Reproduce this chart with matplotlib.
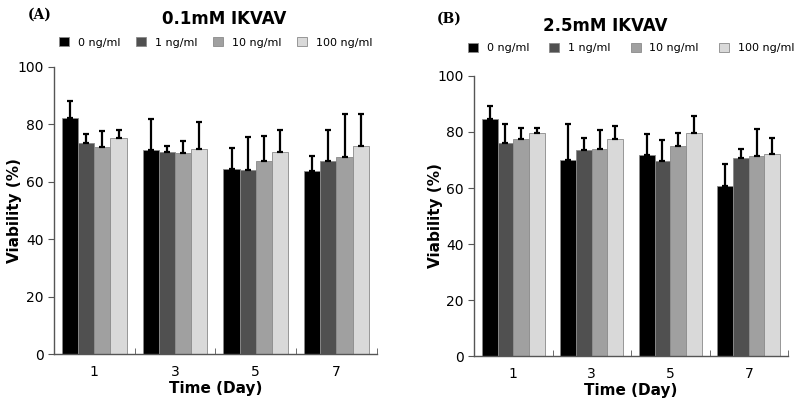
import numpy as np
import matplotlib
matplotlib.use("Agg")
import matplotlib.pyplot as plt

days = ["1", "3", "5", "7"]
doses = ["0 ng/ml", "1 ng/ml", "10 ng/ml", "100 ng/ml"]
colors = ["#000000", "#505050", "#a0a0a0", "#d9d9d9"]

# panel A: 0.1mM IKVAV, rows = dose, cols = day
mean_a = [[82.2, 71.1, 64.6, 63.8],
          [73.6, 70.5, 64.2, 67.4],
          [72.0, 69.9, 67.4, 68.5],
          [75.1, 71.5, 70.3, 72.5]]
err_a = [[5.8, 10.7, 7.1, 5.2],
         [3.1, 2.1, 11.4, 10.6],
         [5.8, 4.4, 8.7, 15.2],
         [3.1, 9.3, 7.6, 11.2]]

# panel B: 2.5mM IKVAV
mean_b = [[84.6, 69.9, 71.7, 60.6],
          [76.2, 73.6, 69.6, 70.7],
          [77.5, 74.0, 75.1, 71.5],
          [79.5, 77.4, 79.6, 72.0]]
err_b = [[4.8, 12.8, 7.5, 8.0],
         [6.5, 4.4, 7.5, 3.1],
         [3.8, 6.7, 4.4, 9.6],
         [1.8, 4.9, 6.2, 5.8]]

fig = plt.figure(figsize=(8, 4.08), dpi=100)


def panel(rect, means, errs, tag, title, tag_xy, title_xy, leg_y, colsp, ylab_x):
    ax = fig.add_axes(rect)
    x = np.arange(len(days))
    w = 0.2
    for i in range(len(doses)):
        ax.bar(x + (i - 1.5) * w, means[i], w, color=colors[i],
               edgecolor="#8a8a8a", linewidth=0.6, label=doses[i], zorder=2)
        ax.errorbar(x + (i - 1.5) * w, means[i], yerr=[np.zeros(4), errs[i]],
                    fmt="none", ecolor="black", elinewidth=1.6, capsize=2.5,
                    capthick=1.6, zorder=3)
    ax.set_xlim(-0.5, 3.5)
    ax.set_ylim(0, 100)
    ax.set_yticks([0, 20, 40, 60, 80, 100])
    ax.set_xticks(x)
    ax.set_xticklabels(days)
    ax.set_xticks([0.5, 1.5, 2.5, 3.5], minor=True)
    ax.tick_params(axis="x", which="major", length=0, labelsize=10, pad=8)
    ax.tick_params(axis="x", which="minor", direction="in", length=4, color="#555555")
    ax.tick_params(axis="y", length=4, color="#555555", labelsize=10)
    for s in ["top", "right"]:
        ax.spines[s].set_visible(False)
    for s in ["left", "bottom"]:
        ax.spines[s].set_color("#555555")
        ax.spines[s].set_linewidth(1.0)
    ax.set_xlabel("Time (Day)", fontsize=11, fontweight="bold", labelpad=1)
    ax.set_ylabel("Viability (%)", fontsize=11, fontweight="bold")
    ax.yaxis.set_label_coords(ylab_x, 0.5)
    fig.text(tag_xy[0], tag_xy[1], tag, fontsize=10, family="serif", fontweight="bold")
    fig.text(title_xy[0], title_xy[1], title, fontsize=12, fontweight="bold", ha="center")
    ax.legend(loc="center", bbox_to_anchor=(0.5, leg_y), ncol=4, frameon=False,
              fontsize=8, handlelength=0.9, handleheight=0.9, columnspacing=colsp,
              handletextpad=0.8)
    return ax


panel([0.0675, 0.132, 0.4035, 0.704], mean_a, err_a, "(A)", "0.1mM IKVAV",
      (0.035, 0.955), (0.28, 0.94), 1.085, 1.4, -0.1)
panel([0.5925, 0.127, 0.3925, 0.687], mean_b, err_b, "(B)", "2.5mM IKVAV",
      (0.546, 0.945), (0.756, 0.925), 1.1, 1.8, -0.1)

fig.savefig("out.png", dpi=100)
